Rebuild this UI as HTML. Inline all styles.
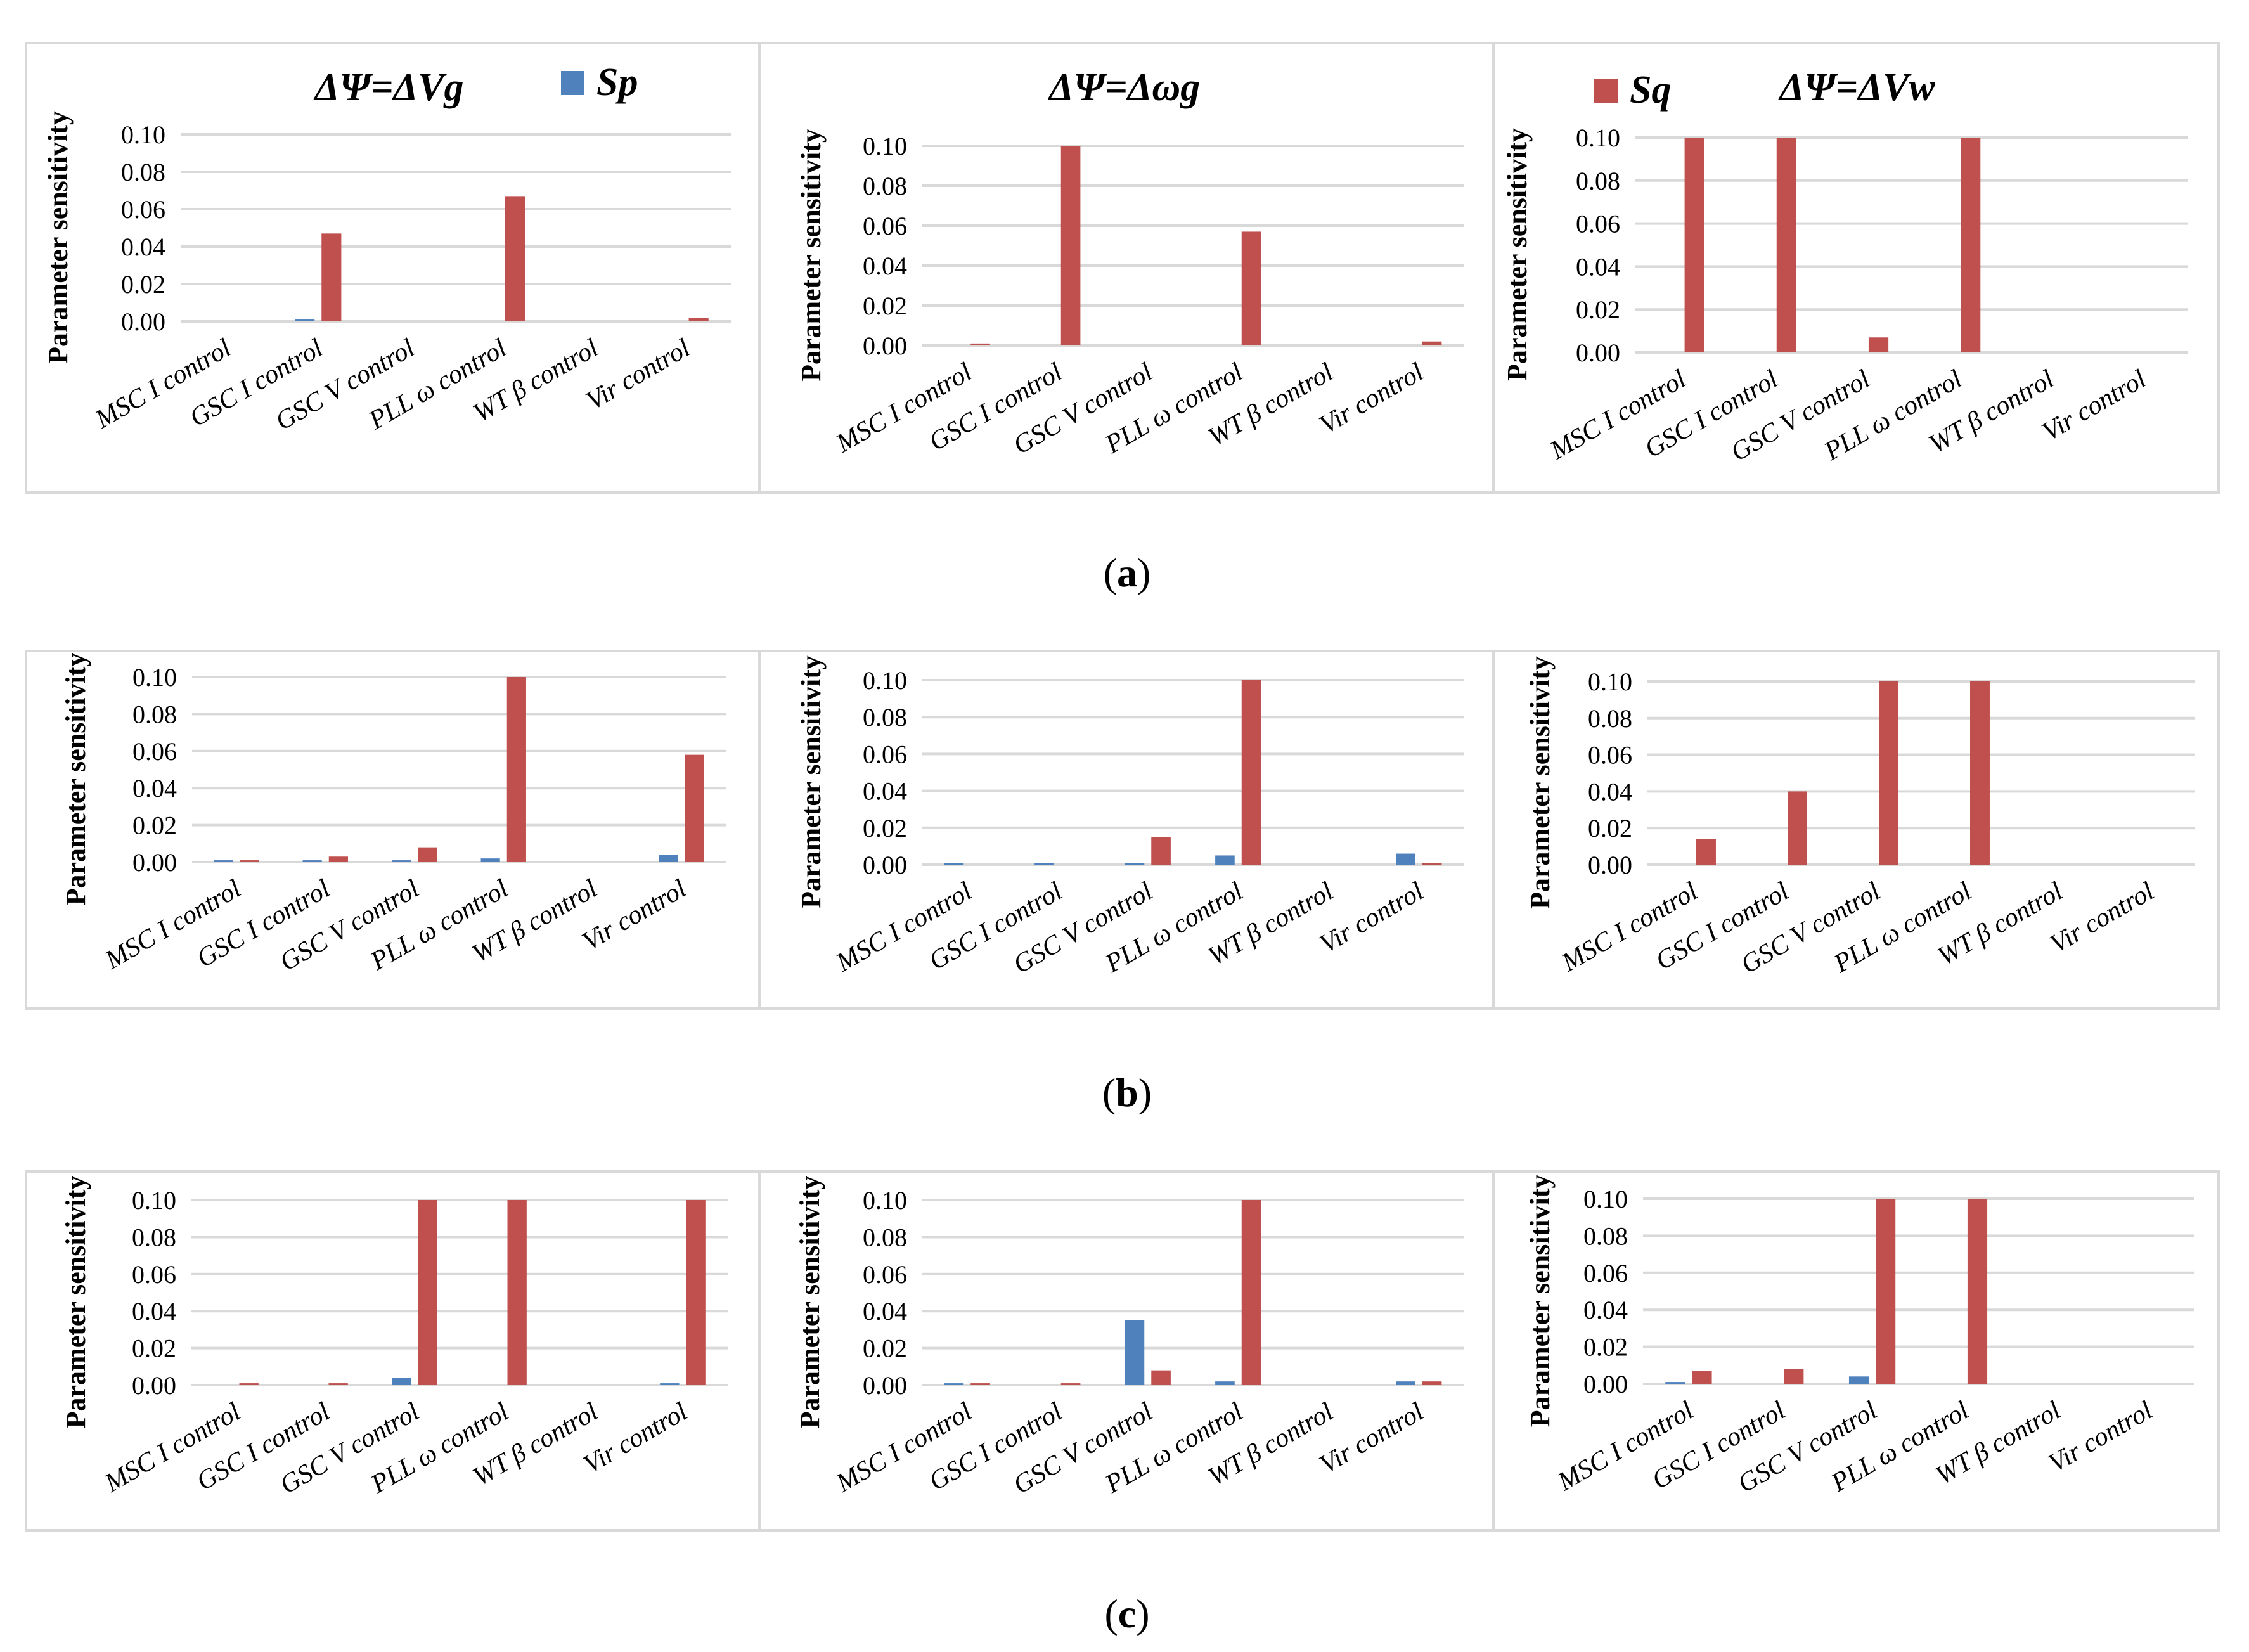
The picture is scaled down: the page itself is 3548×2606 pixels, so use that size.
<!DOCTYPE html>
<html><head><meta charset="utf-8"><style>
html,body{margin:0;padding:0;background:#fff;}
svg{display:block;}
text{font-family:"Liberation Serif",serif;}
</style></head>
<body>
<svg id="fig" width="3548" height="2606" viewBox="0 0 3548 2606" xmlns="http://www.w3.org/2000/svg"></svg>
<script>
const categories = ["MSC I control","GSC I control","GSC V control","PLL \u03C9 control","WT \u03B2 control","Vir control"];
const yTicks = [0, 0.02, 0.04, 0.06, 0.08, 0.10];
const tickLabels = ["0.00","0.02","0.04","0.06","0.08","0.10"];
const captions = ["a","b","c"];
// Sp (blue) and Sq (red) values per panel
const spA1 = [0,0.001,0,0,0,0];       const sqA1 = [0,0.047,0,0.067,0,0.002];
const spA2 = [0,0,0,0,0,0];           const sqA2 = [0.001,0.1,0,0.057,0,0.002];
const spA3 = [0,0,0,0,0,0];           const sqA3 = [0.1,0.1,0.007,0.1,0,0];
const spB1 = [0.001,0.001,0.001,0.002,0,0.004]; const sqB1 = [0.001,0.003,0.008,0.1,0,0.058];
const spB2 = [0.001,0.001,0.001,0.005,0,0.006]; const sqB2 = [0,0,0.015,0.1,0,0.001];
const spB3 = [0,0,0,0,0,0];           const sqB3 = [0.014,0.04,0.1,0.1,0,0];
const spC1 = [0,0,0.004,0,0,0.001];   const sqC1 = [0.001,0.001,0.1,0.1,0,0.1];
const spC2 = [0.001,0,0.035,0.002,0,0.002]; const sqC2 = [0.001,0.001,0.008,0.1,0,0.002];
const spC3 = [0.001,0,0.004,0,0,0];   const sqC3 = [0.007,0.008,0.1,0.1,0,0];

const NS="http://www.w3.org/2000/svg";
const svg=document.getElementById('fig');
function mk(tag,attrs,parent){const e=document.createElementNS(NS,tag);for(const k in attrs)e.setAttribute(k,attrs[k]);(parent||svg).appendChild(e);return e;}

const panels=[
 {box:[41,68,1198,777],px:[285,1154],py:[212,507],ytx:92,sp:spA1,sq:sqA1,title:"\u0394\u03A8=\u0394Vg",tx:614,ty:158,leg:{x:885,y:112,label:"Sp",color:"#4f81bd"}},
 {box:[1198,68,2356,777],px:[1455,2310],py:[230,545],ytx:1280,sp:spA2,sq:sqA2,title:"\u0394\u03A8=\u0394\u03C9g",tx:1774,ty:158},
 {box:[2356,68,3500,777],px:[2580,3451],py:[217,556],ytx:2394,sp:spA3,sq:sqA3,title:"\u0394\u03A8=\u0394Vw",tx:2930,ty:158,leg:{x:2515,y:124,label:"Sq",color:"#c0504d"}},
 {box:[41,1027,1198,1591],px:[303,1146],py:[1068,1360],ytx:120,sp:spB1,sq:sqB1},
 {box:[1198,1027,2356,1591],px:[1455,2310],py:[1073,1364],ytx:1280,sp:spB2,sq:sqB2},
 {box:[2356,1027,3500,1591],px:[2599,3463],py:[1075,1364],ytx:2430,sp:spB3,sq:sqB3},
 {box:[41,1848,1198,2414],px:[302,1148],py:[1893,2185],ytx:120,sp:spC1,sq:sqC1},
 {box:[1198,1848,2356,2414],px:[1455,2310],py:[1893,2185],ytx:1278,sp:spC2,sq:sqC2},
 {box:[2356,1848,3500,2414],px:[2592,3461],py:[1891,2183],ytx:2430,sp:spC3,sq:sqC3}
];

panels.forEach((p,pi)=>{
  const g=mk('g',{});
  
  
  const box=mk('rect',{x:p.box[0],y:p.box[1],width:p.box[2]-p.box[0],height:p.box[3]-p.box[1],fill:'#fff',stroke:'#d9d9d9','stroke-width':4},g);
  
  
  const y0=p.py[1], y1=p.py[0];
  const yScale=v=>y0-(v/0.10)*(y0-y1);
  const x0=p.px[0], cw=(p.px[1]-p.px[0])/categories.length;
  yTicks.forEach((t,i)=>{
    const yy=yScale(t);
    const gl=mk('line',{x1:x0,x2:p.px[1],y1:yy,y2:yy,stroke:'#d9d9d9','stroke-width':4},g);
    
    
    const tl=mk('text',{x:x0-24,y:yy+14,'text-anchor':'end','font-size':40,fill:'#000'},g);
    tl.textContent=tickLabels[i];
    
    
  });
  const bw=cw*0.215;
  categories.forEach((c,i)=>{
    const cx=x0+cw*(i+0.5);
    if(p.sp[i]>0){
      const b=mk('rect',{x:cx-6-bw,y:yScale(p.sp[i]),width:bw,height:y0-yScale(p.sp[i]),fill:'#4f81bd'},g);
      
      
    }
    if(p.sq[i]>0){
      const b=mk('rect',{x:cx+5,y:yScale(p.sq[i]),width:bw,height:y0-yScale(p.sq[i]),fill:'#c0504d'},g);
      
      
    }
    const lx=cx+cw*0.07, ly=y0+50;
    const tl=mk('text',{x:lx,y:ly,'text-anchor':'end','font-size':42,'font-style':'italic',transform:`rotate(-30 ${lx} ${ly})`},g);
    tl.textContent=c;
    
    
  });
  const yc=(y0+y1)/2+15;
  const yt=mk('text',{x:p.ytx+14,y:yc,'text-anchor':'middle','font-size':44,'font-weight':'bold',transform:`rotate(-90 ${p.ytx+14} ${yc})`},g);
  yt.textContent='Parameter sensitivity';
  
  
  if(p.title){
    const t=mk('text',{x:p.tx,y:p.ty,'text-anchor':'middle','font-size':62,'font-style':'italic','font-weight':'bold'},g);
    t.textContent=p.title;
    
    
  }
  if(p.leg){
    const lr=mk('rect',{x:p.leg.x,y:p.leg.y,width:37,height:38,fill:p.leg.color},g);
    
    
    const lt=mk('text',{x:p.leg.x+56,y:p.leg.y+38,'font-size':62,'font-style':'italic','font-weight':'bold'},g);
    lt.textContent=p.leg.label;
    
    
  }
});
const capY=[925,1745,2567];
captions.forEach((c,i)=>{
  const t=mk('text',{x:1778,y:capY[i],'text-anchor':'middle','font-size':64});
  const s1=mk('tspan',{},t); s1.textContent='(';
  const s2=mk('tspan',{'font-weight':'bold'},t); s2.textContent=c;
  const s3=mk('tspan',{},t); s3.textContent=')';
  
  
});
</script>
</body></html>
